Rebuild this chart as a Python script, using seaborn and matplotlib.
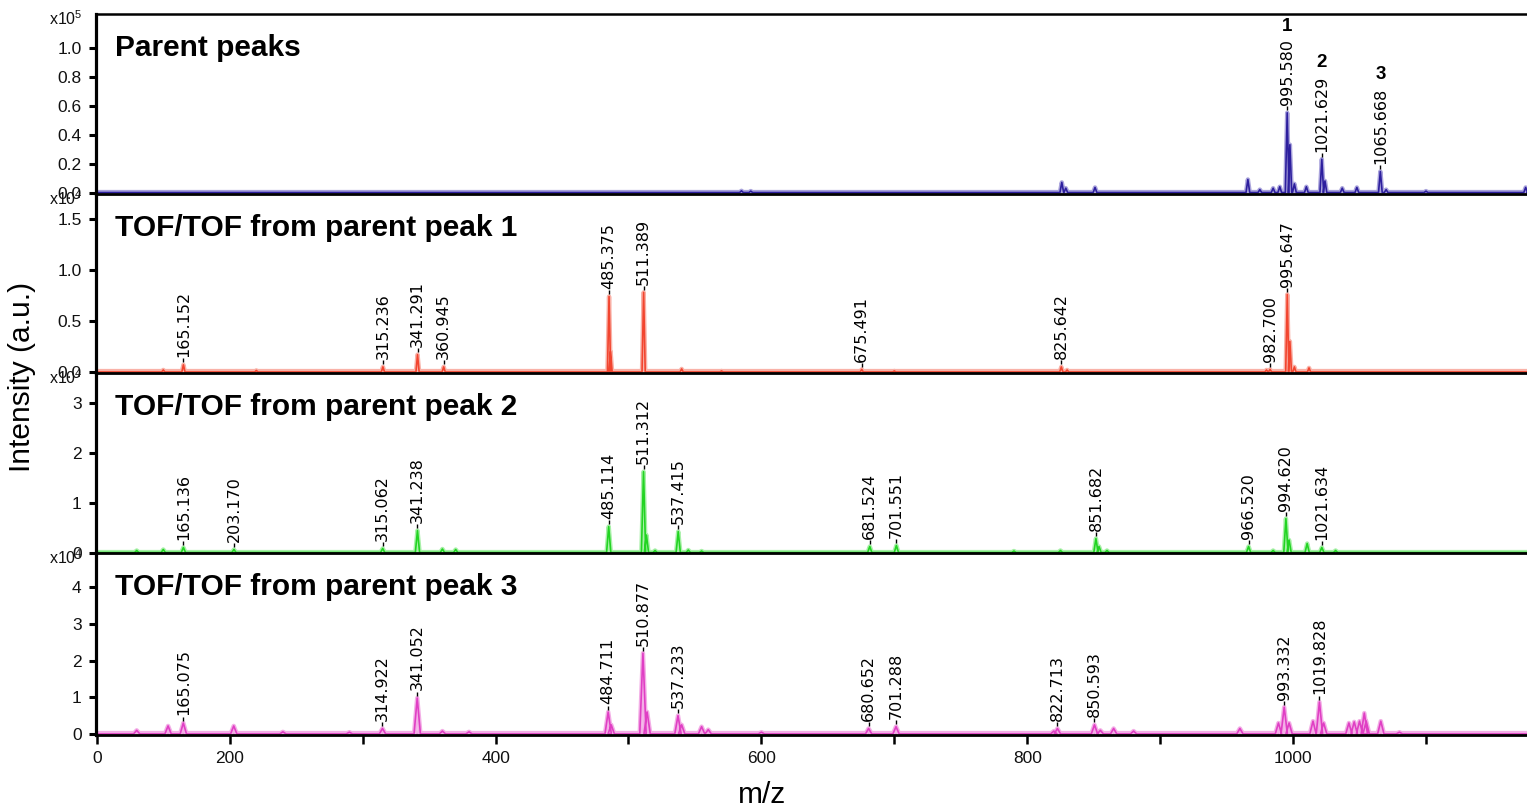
import matplotlib
matplotlib.use("Agg")
import matplotlib.pyplot as plt
import matplotlib.patheffects as pe
import matplotlib.transforms as mtransforms
import pandas as pd
import seaborn as sns

# ---------------------------------------------------------------- data
# Parent MS spectrum: labelled peaks (m/z, intensity in counts)
parent_mz = [995.580, 1021.629, 1065.668]
parent_int = [55000, 23000, 14500]
parent_marks = ["1", "2", "3"]
parent_minor_mz = [585, 592, 826.0, 829, 851, 966, 975, 985, 990, 997.6, 1001,
                   1010, 1024, 1037, 1048, 1070, 1100, 1175]
parent_minor_int = [1200, 1000, 7000, 3000, 3500, 9000, 2000, 3000, 4000, 33000,
                    6000, 4000, 8000, 3000, 3500, 2000, 1000, 3500]

# TOF/TOF of parent peak 1
frag1_mz = [165.152, 315.236, 341.291, 360.945, 485.375, 511.389, 675.491,
            825.642, 982.700, 995.647]
frag1_int = [700, 500, 1700, 500, 7400, 7800, 250, 500, 250, 7600]
frag1_minor_mz = [150, 220, 486.5, 540, 570, 700, 830, 980, 997.6, 1001, 1012]
frag1_minor_int = [200, 150, 2000, 300, 100, 100, 200, 200, 3000, 500, 400]

# TOF/TOF of parent peak 2
frag2_mz = [165.136, 203.170, 315.062, 341.238, 485.114, 511.312, 537.415,
            681.524, 701.551, 851.682, 966.520, 994.620, 1021.634]
frag2_int = [1000, 600, 800, 4400, 5200, 16200, 4200, 1200, 1400, 2800, 1200,
             6800, 1000]
frag2_minor_mz = [130, 150, 360, 370, 513.5, 520, 545, 555, 790, 825, 854,
                  860, 985, 997, 1010.6, 1032]
frag2_minor_int = [400, 600, 700, 600, 3500, 400, 500, 300, 300, 400, 1200,
                   400, 400, 2500, 1800, 400]

# TOF/TOF of parent peak 3
frag3_mz = [165.075, 314.922, 341.052, 484.711, 510.877, 537.233, 680.652,
            701.288, 822.713, 850.593, 993.332, 1019.828]
frag3_int = [3000, 1500, 9800, 6000, 22000, 5000, 1500, 2000, 1500, 2500,
             7300, 8700]
frag3_minor_mz = [130, 153.6, 203, 240, 290, 360, 380, 487, 514, 540, 555, 560,
                  600, 820, 855, 865, 880, 960, 989, 997, 1015, 1023, 1042,
                  1046, 1050, 1053.6, 1055, 1066, 1080]
frag3_minor_int = [1000, 2200, 2200, 600, 500, 800, 600, 2500, 6000, 2500, 2000,
                   1200, 500, 800, 1000, 1500, 800, 1500, 3000, 3000, 3500, 3000,
                   3000, 3300, 3500, 5700, 3500, 3500, 500]

panel_titles = ["Parent peaks", "TOF/TOF from parent peak 1",
                "TOF/TOF from parent peak 2", "TOF/TOF from parent peak 3"]
panel_exponents = [5, 4, 4, 4]
y_tick_values = [[0.0, 0.2, 0.4, 0.6, 0.8, 1.0], [0.0, 0.5, 1.0, 1.5],
                 [0, 1, 2, 3], [0, 1, 2, 3, 4]]
y_tick_labels = [["0.0", "0.2", "0.4", "0.6", "0.8", "1.0"],
                 ["0.0", "0.5", "1.0", "1.5"],
                 ["0", "1", "2", "3"],
                 ["0", "1", "2", "3", "4"]]
x_tick_values = [100, 200, 300, 400, 500, 600, 700, 800, 900, 1000, 1100]
x_tick_labels = ["0", "200", "", "400", "", "600", "", "800", "", "1000", ""]

# ---------------------------------------------------------------- style
X_MIN, X_MAX = 99.0, 1176.0
line_colors = ["#2d1f9e", "#f2452f", "#22d422", "#e03fc4"]
halo_colors = ["#aaa4dc", "#f9b2a8", "#a8f0a8", "#f3aee6"]
half_widths = [1.4, 1.2, 1.6, 2.4]
y_limits = [(-0.01, 1.231), (-0.01, 1.745), (-0.01, 3.6), (-0.027, 4.925)]
W, H = 1527, 809
rows_px = [(14, 194), (194, 373), (373, 553), (553, 735)]
LEFT_PX = 95.5

sns.set_theme(style="ticks")
plt.rcParams["font.family"] = ["Liberation Sans", "DejaVu Sans"]
plt.rcParams["mathtext.default"] = "regular"

spectra = [
    (parent_mz, parent_int, parent_minor_mz, parent_minor_int),
    (frag1_mz, frag1_int, frag1_minor_mz, frag1_minor_int),
    (frag2_mz, frag2_int, frag2_minor_mz, frag2_minor_int),
    (frag3_mz, frag3_int, frag3_minor_mz, frag3_minor_int),
]


def spectrum_frame(mz_major, int_major, mz_minor, int_minor, scale, hw):
    """Stick spectrum as a polyline with a narrow triangular profile per peak."""
    peaks = sorted(zip(list(mz_major) + list(mz_minor),
                       list(int_major) + list(int_minor)))
    xs, ys = [X_MIN], [0.0]
    for m, h in peaks:
        xs += [m - hw, m, m + hw]
        ys += [0.0, h / scale, 0.0]
    xs.append(X_MAX)
    ys.append(0.0)
    return pd.DataFrame({"mz": xs, "intensity": ys})


fig = plt.figure(figsize=(W / 100, H / 100), dpi=100)
fig.patch.set_facecolor("white")

for i, (top, bottom) in enumerate(rows_px):
    rect = [LEFT_PX / W, 1 - bottom / H, (W - LEFT_PX) / W, (bottom - top) / H]
    ax = fig.add_axes(rect)
    scale = 10 ** panel_exponents[i]
    mz_major, int_major, mz_minor, int_minor = spectra[i]

    # thick baseline
    ax.axhline(0, color=halo_colors[i], lw=4.5, zorder=1.2)
    ax.axhline(0, color=line_colors[i], lw=2.0, zorder=1.3)

    df = spectrum_frame(mz_major, int_major, mz_minor, int_minor, scale,
                        half_widths[i])
    ax.fill_between(df["mz"], 0, df["intensity"], color=halo_colors[i],
                    alpha=0.7, lw=0, zorder=1.4)
    sns.lineplot(data=df, x="mz", y="intensity", sort=False, estimator=None,
                 ax=ax, color=line_colors[i], lw=1.2, legend=False,
                 path_effects=[pe.Stroke(linewidth=3.2,
                                         foreground=halo_colors[i]),
                               pe.Normal()])

    # peak annotations
    dot_tr = mtransforms.offset_copy(ax.transData, fig=fig, x=0, y=3.2,
                                     units="points")
    label_artists = []
    for m, h in zip(mz_major, int_major):
        ax.plot([m], [h / scale], marker="|", ms=2.6, mew=1.0, color="black",
                transform=dot_tr, zorder=4)
        t = ax.annotate(f"{m:.3f}", xy=(m, h / scale), xytext=(0, 5.5),
                        textcoords="offset points", rotation=90,
                        ha="center", va="bottom", fontsize=11.5,
                        family="DejaVu Sans", color="black", zorder=5)
        label_artists.append(t)
    if i == 0:
        for t, mark in zip(label_artists, parent_marks):
            ax.annotate(mark, xy=(0.5, 1.0), xycoords=t, xytext=(0, 3.0),
                        textcoords="offset points", ha="center", va="bottom",
                        fontsize=13.5, fontweight="bold", color="black")

    # title inside the panel
    ax.annotate(panel_titles[i], xy=(0, 1), xycoords="axes fraction",
                xytext=(14, -30), textcoords="offset points", ha="left",
                va="baseline", fontsize=21.5, fontweight="bold",
                color="black")
    # exponent of the intensity axis
    ax.annotate(rf"x10$^{{{panel_exponents[i]}}}$", xy=(0, 1),
                xycoords="axes fraction", xytext=(-9.5, -3.6),
                textcoords="offset points", ha="right", va="center",
                fontsize=11.5, color="#111111")

    ax.set_xlim(X_MIN, X_MAX)
    ax.set_ylim(*y_limits[i])
    ax.set_yticks(y_tick_values[i])
    ax.set_yticklabels(y_tick_labels[i])
    ax.set_xlabel("")
    ax.set_ylabel("")
    ax.tick_params(axis="y", direction="out", length=5, width=2.2, pad=5,
                   labelsize=12.5, colors="black")
    for lab in ax.get_yticklabels():
        lab.set_color("#111111")
    ax.spines["left"].set_linewidth(2.3)
    ax.spines["bottom"].set_linewidth(2.0)
    ax.spines["right"].set_visible(False)
    ax.spines["top"].set_visible(i == 0)
    ax.spines["top"].set_linewidth(1.8)
    for s in ax.spines.values():
        s.set_color("black")
        s.set_zorder(6)
    ax.patch.set_alpha(0.0)

    if i < 3:
        ax.set_xticks([])
    else:
        ax.set_xticks(x_tick_values)
        ax.set_xticklabels(x_tick_labels)
        ax.tick_params(axis="x", direction="out", length=6.5, width=1.8,
                       pad=5, labelsize=12.5, colors="black")
        for lab in ax.get_xticklabels():
            lab.set_color("#111111")

fig.text(22 / W, 1 - 377 / H, "Intensity (a.u.)", rotation=90, ha="center",
         va="center", fontsize=21.5, color="black")
fig.text(762 / W, 1 - 795 / H, "m/z", ha="center", va="center",
         fontsize=21.5, color="black")

fig.savefig("out.png", dpi=100, facecolor="white")
